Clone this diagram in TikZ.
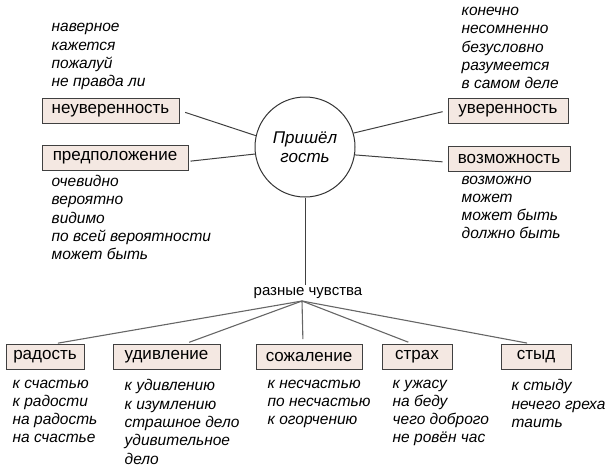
\documentclass[tikz,border=0pt]{standalone}
\usepackage{fontspec}
\setmainfont{Liberation Sans}
\usetikzlibrary{positioning}
\definecolor{boxfill}{RGB}{244,232,226}

\begin{document}
\begin{tikzpicture}[x=1pt, y=1pt,
  box/.style={rectangle, draw=black!75, line width=1pt, fill=boxfill, minimum height=25pt, inner xsep=0pt, font=\fontsize{17}{19}\selectfont, text=black},
  wordlist/.style={align=left, inner sep=0pt, font=\fontsize{15.5}{18.3}\selectfont\itshape, text=black, execute at begin node=\strut, execute at end node=\strut},
  guest/.style={circle, draw=black!80, line width=1pt, minimum size=100pt, align=center, font=\fontsize{17}{19.5}\selectfont\itshape},
  link/.style={draw=black!75, line width=1pt},
  branch/.style={draw=black!60, line width=1.1pt, shorten >=5pt}
]
\useasboundingbox (0,0) rectangle (609,-474);
% centre
\node[guest] (guest) at (305,-147) {Пришёл\\гость};
% upper boxes and their words
\node[box, minimum width=137pt] (unsure) at (110.5,-110.5) {неуверенность};
\node[box, minimum width=146pt] (guess) at (115,-157.5) {предположение};
\node[box, minimum width=120pt] (sure) at (508,-110.5) {уверенность};
\node[box, minimum width=122pt] (maybe) at (509,-159) {возможность};
\node[wordlist, above right=5pt and 10pt of unsure.north west] (unsurewords) {наверное\\кажется\\пожалуй\\не правда ли};
\node[wordlist, below right=4.5pt and 10pt of guess.south west] (guesswords) {очевидно\\вероятно\\видимо\\по всей вероятности\\может быть};
\node[wordlist, above right=3pt and 14pt of sure.north west] (surewords) {конечно\\несомненно\\безусловно\\разумеется\\в самом деле};
\node[wordlist, below right=3.5pt and 14pt of maybe.south west] (maybewords) {возможно\\может\\может быть\\должно быть};
% feelings
\node[font=\fontsize{15}{18}\selectfont, inner sep=2pt] (feel) at (308,-293) {разные чувства};
\coordinate (hub) at (302,-301);
\node[box, minimum width=78pt] (joy) at (45,-357) {радость};
\node[box, minimum width=107pt] (wonder) at (166.5,-357) {удивление};
\node[box, minimum width=106pt] (regret) at (309,-357) {сожаление};
\node[box, minimum width=70pt] (fear) at (417,-357) {страх};
\node[box, minimum width=70pt] (shame) at (536,-357) {стыд};
\node[wordlist, below right=9.5pt and 7pt of joy.south west] (joywords) {к счастью\\к радости\\на радость\\на счастье};
\node[wordlist, below right=9.5pt and 12pt of wonder.south west] (wonderwords) {к удивлению\\к изумлению\\страшное дело\\удивительное\\дело};
\node[wordlist, below right=9.5pt and 12pt of regret.south west] (regretwords) {к несчастью\\по несчастью\\к огорчению};
\node[wordlist, below right=9.5pt and 11pt of fear.south west] (fearwords) {к ужасу\\на беду\\чего доброго\\не ровён час};
\node[wordlist, below right=9.5pt and 11pt of shame.south west] (shamewords) {к стыду\\нечего греха\\таить};
% connectors
\draw[link, shorten <=6pt] (unsure.east) -- (guest.167);
\draw[link, shorten <=2pt] (guess.-3) -- (guest.188);
\draw[link, shorten >=5pt] (guest.16) -- (sure.west);
\draw[link, shorten >=5pt] (guest.351) -- (maybe.183);
\draw[link] (guest.south) -- (guest.south |- feel.north);
\draw[branch] (hub) -- ([xshift=8pt]joy.north);
\draw[branch] (hub) -- ([xshift=18pt]wonder.north);
\draw[branch] (hub) -- ([xshift=-6pt]regret.north);
\draw[branch] (hub) -- ([xshift=-4pt]fear.north);
\draw[branch] (hub) -- ([xshift=-4pt]shame.north);
\end{tikzpicture}
\end{document}
